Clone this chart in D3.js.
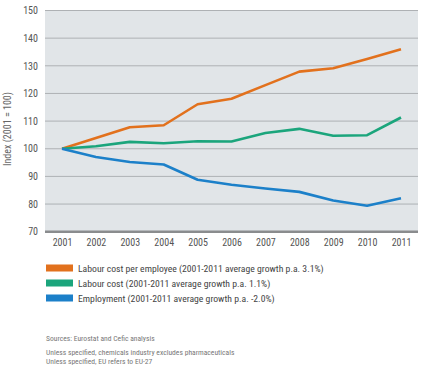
<!DOCTYPE html>
<html><head><meta charset="utf-8">
<script src="https://cdn.jsdelivr.net/npm/d3@7"></script>
<style>
body{margin:0;background:#fff;}
svg text{font-family:"Liberation Sans Narrow","Roboto Condensed","Liberation Sans",sans-serif;}
</style></head>
<body><svg id="c" width="427" height="368"></svg>
<script>
const years = [2001,2002,2003,2004,2005,2006,2007,2008,2009,2010,2011];
const labourCostPerEmployee = [100,103.9,107.8,108.5,116.1,118.1,123,127.9,129.1,132.5,136];
const labourCost = [100,100.9,102.5,102.0,102.7,102.6,105.7,107.2,104.7,104.9,111.3];
const employment = [100,97.0,95.2,94.3,88.8,87.0,85.6,84.4,81.3,79.4,82.1];
const yTicks = [70,80,90,100,110,120,130,140,150];
const seriesNames = [
  "Labour cost per employee (2001-2011 average growth p.a. 3.1%)",
  "Labour cost (2001-2011 average growth p.a. 1.1%)",
  "Employment (2001-2011 average growth p.a. -2.0%)"
];
const colors = ["#e2711d","#1ba57c","#1c80c9"];
const yTitle = "Index (2001 = 100)";
const notes = [
  "Sources: Eurostat and Cefic analysis",
  "Unless specified, chemicals industry excludes pharmaceuticals",
  "Unless specified, EU refers to EU-27"
];

const svg = d3.select("#c");
const L=45, R=418, T=10.5, B=231.7;
const x = d3.scalePoint().domain(years).range([62,401]);
const y = d3.scaleLinear().domain([70,150]).range([B,T]);

svg.append("rect").attr("x",L).attr("y",T).attr("width",R-L).attr("height",B-T).attr("fill","#e1e5e8");

// grid
svg.append("g").selectAll("line").data(yTicks.filter(v=>v>70)).join("line")
  .attr("x1",L).attr("x2",R).attr("y1",d=>y(d)).attr("y2",d=>y(d))
  .attr("stroke","#aeb1b4").attr("stroke-width",1);
// baseline
svg.append("line").attr("x1",L).attr("x2",R).attr("y1",y(70)).attr("y2",y(70))
  .attr("stroke","#8a8c8e").attr("stroke-width",2.5);

// y axis labels
const ya = svg.append("g").attr("transform",`translate(${L},0)`)
  .call(d3.axisLeft(y).tickValues(yTicks).tickSize(0).tickPadding(7).tickFormat(d3.format("d")));
ya.select(".domain").remove();
ya.selectAll("text").attr("fill","#555").style("font-size","10px");

// x axis labels
const xa = svg.append("g").attr("transform",`translate(0,${B})`)
  .call(d3.axisBottom(x).tickSize(0).tickPadding(7).tickFormat(d3.format("d")));
xa.select(".domain").remove();
xa.selectAll("text").attr("fill","#555").style("font-size","10px");

// y title
svg.append("text").attr("transform","translate(11,129) rotate(-90)")
  .attr("text-anchor","middle").attr("fill","#666").style("font-size","10px").text(yTitle);

// lines
const line = d3.line().x((d,i)=>x(years[i])).y(d=>y(d));
[labourCostPerEmployee,labourCost,employment].forEach((s,i)=>{
  svg.append("path").datum(s).attr("d",line).attr("fill","none")
    .attr("stroke",colors[i]).attr("stroke-width",2.6).attr("stroke-linejoin","round");
});

// legend
const lg = svg.append("g");
seriesNames.forEach((n,i)=>{
  const cy = 268+i*15;
  lg.append("rect").attr("x",46).attr("y",cy-3.5).attr("width",27).attr("height",7).attr("fill",colors[i]);
  lg.append("text").attr("x",78).attr("y",cy+3.5).attr("fill","#444").style("font-size","9.7px").text(n);
});

// notes
const ny=[341,355,364];
notes.forEach((t,i)=>{
  svg.append("text").attr("x",46).attr("y",ny[i]).attr("fill","#777").style("font-size","7.6px").text(t);
});
</script></body></html>
